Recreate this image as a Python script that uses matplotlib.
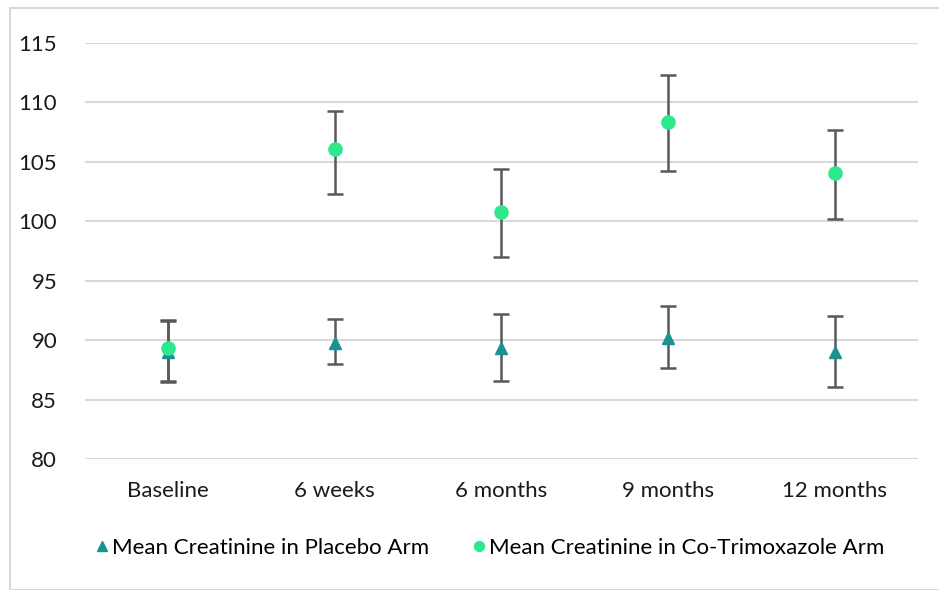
import matplotlib
matplotlib.use("Agg")
import matplotlib.pyplot as plt
from matplotlib.patches import Rectangle
import numpy as np

categories = ["Baseline", "6 weeks", "6 months", "9 months", "12 months"]

placebo_mean = [89.0, 89.8, 89.3, 90.2, 89.0]
placebo_low = [86.6, 88.0, 86.6, 87.7, 86.1]
placebo_high = [91.7, 91.8, 92.2, 92.9, 92.0]

ctx_mean = [89.3, 106.1, 100.8, 108.4, 104.1]
ctx_low = [86.5, 102.3, 97.0, 104.2, 100.2]
ctx_high = [91.6, 109.3, 104.4, 112.3, 107.7]

y_ticks = [80, 85, 90, 95, 100, 105, 110, 115]

plt.rcParams["font.family"] = ["Lato", "DejaVu Sans"]

fig = plt.figure(figsize=(9.39, 5.90), dpi=100)
ax = fig.add_axes([0.0905, 0.222, 0.887, 0.705])

x = np.arange(len(categories))
err_color = "#595959"
teal = "#1b9190"
green = "#2ee98c"

ax.errorbar(x, placebo_mean,
            yerr=[np.array(placebo_mean) - np.array(placebo_low),
                  np.array(placebo_high) - np.array(placebo_mean)],
            fmt="none", ecolor=err_color, elinewidth=1.8, capsize=5.5, capthick=1.8, zorder=2)
ax.errorbar(x, ctx_mean,
            yerr=[np.array(ctx_mean) - np.array(ctx_low),
                  np.array(ctx_high) - np.array(ctx_mean)],
            fmt="none", ecolor=err_color, elinewidth=1.8, capsize=5.5, capthick=1.8, zorder=2)

h1, = ax.plot(x, placebo_mean, linestyle="none", marker="^", markersize=9,
              color=teal, zorder=3, label="Mean Creatinine in Placebo Arm")
h2, = ax.plot(x, ctx_mean, linestyle="none", marker="o", markersize=9.5,
              color=green, zorder=4, label="Mean Creatinine in Co-Trimoxazole Arm")

ax.set_xlim(-0.5, len(categories) - 0.5)
ax.set_ylim(80, 115)
ax.set_yticks(y_ticks)
ax.set_xticks(x)
ax.set_xticklabels(categories)
ax.tick_params(axis="both", length=0, labelsize=16, colors="#1a1a1a")
ax.tick_params(axis="x", pad=16)
ax.tick_params(axis="y", pad=20)
ax.grid(axis="y", color="#d9d9d9", linewidth=1.5, zorder=0)
ax.set_axisbelow(True)
for s in ax.spines.values():
    s.set_visible(False)

fig.legend(handles=[h1, h2], loc="center", bbox_to_anchor=(0.522, 0.071), ncol=2,
           frameon=False, fontsize=16, handlelength=0.5, handletextpad=0.2,
           columnspacing=2.0, markerscale=0.75)

fig.patches.append(Rectangle((10 / 939, 0), 1, 1 - 8 / 590, transform=fig.transFigure,
                             fill=False, edgecolor="#d9d9d9", linewidth=1.5))

fig.savefig("out.png", dpi=100)
